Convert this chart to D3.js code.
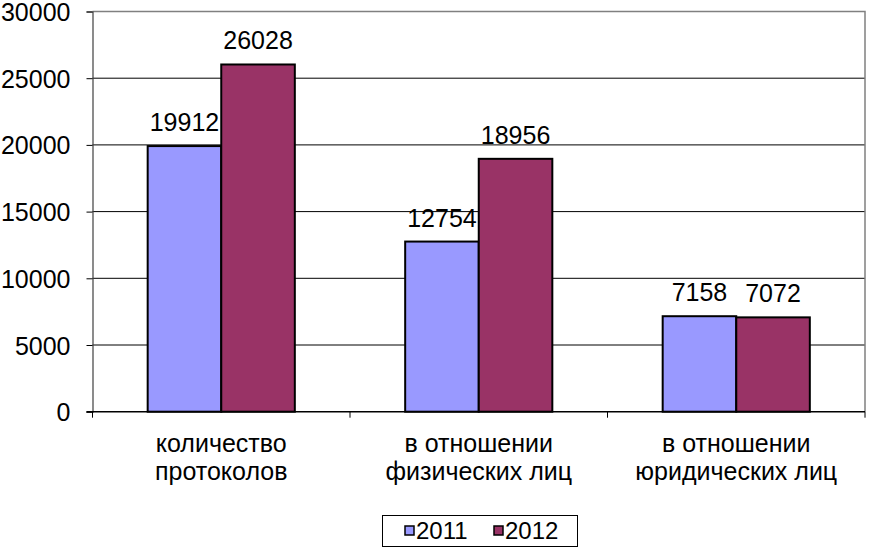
<!DOCTYPE html>
<html><head><meta charset="utf-8">
<script src="https://cdn.jsdelivr.net/npm/d3@7"></script>
<style>body{margin:0;background:#fff}svg{display:block;font-family:Arial,"Liberation Sans",sans-serif}</style>
</head><body>
<svg id="c" width="871" height="550"></svg>
<script>
const categories = [["количество","протоколов"],["в отношении","физических лиц"],["в отношении","юридических лиц"]];
const series = ["2011","2012"];
const values2011 = [19912, 12754, 7158];
const values2012 = [26028, 18956, 7072];
const yTicks = [0,5000,10000,15000,20000,25000,30000];
const colors = ["#9999FF","#993366"];

const FF = "Arial,'Liberation Sans',sans-serif";
const svg = d3.select("#c");
const L = 92.5, R = 865, T = 11.5, B = 411.7;
const x = d3.scaleBand().domain(d3.range(categories.length)).range([L,R]).paddingInner(0).paddingOuter(0);
const inner = d3.scaleBand().domain(series).range([0,x.bandwidth()]).paddingInner(0).paddingOuter(0.75);
const y = d3.scaleLinear().domain([0,30000]).range([B,T]);

// gridlines
svg.append("g").selectAll("line").data(yTicks.filter(t=>t>0 && t<30000)).join("line")
  .attr("x1",L).attr("x2",R).attr("y1",d=>y(d)).attr("y2",d=>y(d)).attr("stroke","#000").attr("stroke-width",1);
// plot border top/right gray
svg.append("path").attr("d",`M${L},${y(30000)}H${R}V${B}`).attr("fill","none").attr("stroke","#808080").attr("stroke-width",1.5);

// y axis
const ya = d3.axisLeft(y).tickValues(yTicks).tickSize(6).tickPadding(16).tickFormat(d3.format("d"));
const gy = svg.append("g").attr("transform",`translate(${L},0)`).call(ya);
gy.select(".domain").attr("stroke","#404040").attr("stroke-width",1.2);
gy.selectAll(".tick line").attr("stroke","#000");
gy.selectAll("text").attr("font-size",25).attr("fill","#000").attr("font-family",FF).attr("dy","0.36em");

// bars
const data = categories.map((c,i)=>[{s:"2011",v:values2011[i],i},{s:"2012",v:values2012[i],i}]);
const g = svg.append("g");
const grp = g.selectAll("g").data(data).join("g").attr("transform",(d,i)=>`translate(${x(i)},0)`);
grp.selectAll("rect").data(d=>d).join("rect")
  .attr("x",d=>inner(d.s)).attr("width",inner.bandwidth())
  .attr("y",d=>y(d.v)).attr("height",d=>B-y(d.v))
  .attr("fill",(d,j)=>colors[j]).attr("stroke","#000").attr("stroke-width",2);
grp.selectAll("text").data(d=>d).join("text")
  .attr("x",d=>inner(d.s)+inner.bandwidth()/2).attr("y",d=>y(d.v)-15)
  .attr("text-anchor","middle").attr("font-size",25).attr("fill","#000").text(d=>d.v);

// x axis
svg.append("line").attr("x1",L-6).attr("x2",R).attr("y1",B).attr("y2",B).attr("stroke","#000").attr("stroke-width",1.5);
svg.append("g").selectAll("line").data(d3.range(categories.length+1)).join("line")
  .attr("x1",d=>L+d*x.step()).attr("x2",d=>L+d*x.step()).attr("y1",B).attr("y2",B+6).attr("stroke","#000");
const cl = svg.append("g").selectAll("text").data(categories).join("text")
  .attr("text-anchor","middle").attr("font-size",25).attr("fill","#000")
  .attr("transform",(d,i)=>`translate(${x(i)+x.bandwidth()/2},0)`);
cl.selectAll("tspan").data(d=>d).join("tspan").attr("x",0).attr("y",(d,j)=>452+j*28).text(d=>d);

// legend
const lg = svg.append("g");
lg.append("rect").attr("x",382.5).attr("y",515.5).attr("width",195).attr("height",31).attr("fill","#fff").attr("stroke","#000").attr("stroke-width",1);
const items = lg.selectAll("g").data(series).join("g").attr("transform",(d,i)=>`translate(${405+i*89},0)`);
items.append("rect").attr("x",0).attr("y",526).attr("width",9).attr("height",9).attr("fill",(d,i)=>colors[i]).attr("stroke","#000").attr("stroke-width",1.5);
items.append("text").attr("x",11).attr("y",538.5).attr("font-size",24).attr("fill","#000").text(d=>d);
</script>
</body></html>
